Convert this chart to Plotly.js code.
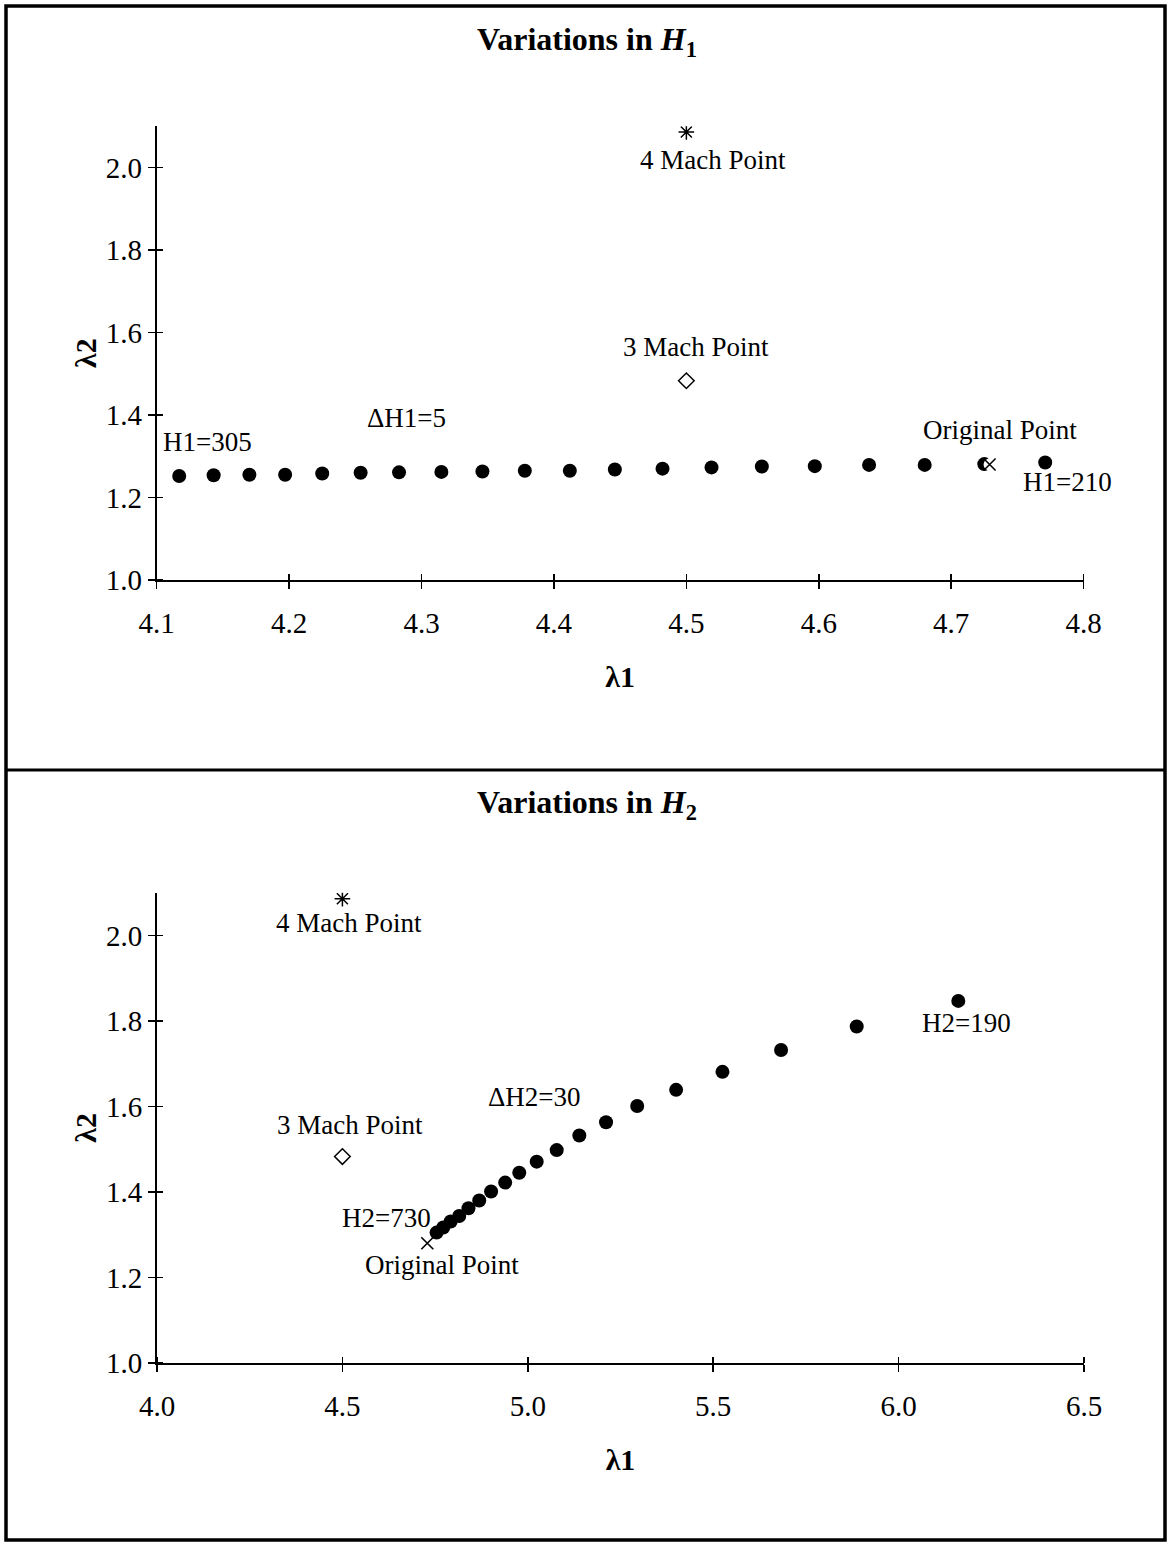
<!DOCTYPE html>
<html><head><meta charset="utf-8">
<script src="https://cdn.plot.ly/plotly-3.0.1.min.js"></script>
<style>html,body{margin:0;padding:0;background:#fff;}</style>
</head><body><div id="chart" style="width:1169px;height:1542px;"></div>
<script>
// ---- Panel 1: variations in H1 (H1 = 305 ... 210, step 5)
const h1Values   = [305,300,295,290,285,280,275,270,265,260,255,250,245,240,235,230,225,220,215,210];
const h1Lambda1  = [4.117,4.143,4.170,4.197,4.225,4.254,4.283,4.315,4.346,4.378,4.412,4.446,4.482,4.519,4.557,4.597,4.638,4.680,4.725,4.771];
const h1Lambda2  = [1.252,1.254,1.255,1.255,1.258,1.260,1.261,1.262,1.263,1.265,1.265,1.268,1.270,1.273,1.275,1.276,1.279,1.279,1.281,1.285];
// ---- Panel 2: variations in H2 (H2 = 730 ... 190, step 30)
const h2Values   = [730,700,670,640,610,580,550,520,490,460,430,400,370,340,310,280,250,220,190];
const h2Lambda1  = [4.754,4.772,4.792,4.815,4.840,4.869,4.901,4.939,4.977,5.024,5.078,5.139,5.211,5.295,5.400,5.525,5.683,5.887,6.161];
const h2Lambda2  = [1.305,1.317,1.331,1.344,1.362,1.380,1.401,1.422,1.445,1.471,1.498,1.532,1.563,1.601,1.639,1.681,1.732,1.787,1.847];
// ---- Reference points
const originalLambda1 = [4.729];
const originalLambda2 = [1.280];
const mach3Lambda1 = [4.5];
const mach3Lambda2 = [1.483];
const mach4Lambda1 = [4.5];
const mach4Lambda2 = [2.086];
// ---- Axis ticks
const topXTicks = [4.1,4.2,4.3,4.4,4.5,4.6,4.7,4.8];
const botXTicks = [4.0,4.5,5.0,5.5,6.0,6.5];
const yTicks = [1.0,1.2,1.4,1.6,1.8,2.0];

const W = 1169, H = 1542;
const FONT = 'Liberation Serif, Times New Roman, serif';
const px = v => v / W, py = v => 1 - v / H;

function refTraces(xa, ya, mask) {
  const t = [];
  if (mask) t.push({x: originalLambda1, y: originalLambda2, xaxis: xa, yaxis: ya, mode: 'markers', hoverinfo: 'skip',
      marker: {symbol: 'circle', size: 12, color: '#ffffff', line: {width: 0}}});
  t.push({x: originalLambda1, y: originalLambda2, xaxis: xa, yaxis: ya, mode: 'markers', name: 'Original Point',
      marker: {symbol: 'x-thin-open', size: 12, color: '#000', line: {width: 1.6, color: '#000'}}});
  t.push({x: mach3Lambda1, y: mach3Lambda2, xaxis: xa, yaxis: ya, mode: 'markers', name: '3 Mach Point',
      marker: {symbol: 'diamond-open', size: 12, color: '#000', line: {width: 1.5, color: '#000'}}});
  t.push({x: mach4Lambda1, y: mach4Lambda2, xaxis: xa, yaxis: ya, mode: 'markers', name: '4 Mach Point',
      marker: {symbol: 'asterisk-open', size: 13, color: '#000', line: {width: 1.5, color: '#000'}}});
  return t;
}

const traces = [
  {x: h1Lambda1, y: h1Lambda2, text: h1Values.map(v => 'H1=' + v), xaxis: 'x', yaxis: 'y', mode: 'markers', name: 'H1',
   marker: {symbol: 'circle', size: 14, color: '#000'}},
  ...refTraces('x', 'y', true),
  {x: h2Lambda1, y: h2Lambda2, text: h2Values.map(v => 'H2=' + v), xaxis: 'x2', yaxis: 'y2', mode: 'markers', name: 'H2',
   marker: {symbol: 'circle', size: 14, color: '#000'}}
].concat(refTraces('x2', 'y2', false));

const tickFont = {family: FONT, size: 29, color: '#000'};
// the inner half of the crossing ticks is drawn as minor ticks at (almost) the same values
const innerHalf = ticks => ({tickmode: 'array', tickvals: ticks.map(v => v + 1e-9), ticks: 'inside',
  ticklen: 6, tickwidth: 1.5, tickcolor: '#000', showgrid: false});
function mainX(domain, range, ticks, anchor) {
  return {domain, range, anchor, tickvals: ticks, ticktext: ticks.map(v => v.toFixed(1)),
    ticks: 'outside', ticklen: 7, tickwidth: 1.5, tickcolor: '#000', minor: innerHalf(ticks),
    showline: true, linecolor: '#000', linewidth: 2, showgrid: false, zeroline: false,
    tickfont: tickFont, ticklabelstandoff: 9,
    title: {text: '<b>λ1</b>', font: {family: FONT, size: 30, color: '#000'}, standoff: 28}};
}
function mainY(domain, anchor) {
  return {domain, range: [1.0, 2.1], anchor, tickvals: yTicks, ticktext: yTicks.map(v => v.toFixed(1)),
    ticks: 'outside', ticklen: 7, tickwidth: 1.5, tickcolor: '#000', minor: innerHalf(yTicks),
    showline: true, linecolor: '#000', linewidth: 2, showgrid: false, zeroline: false,
    tickfont: tickFont, ticklabelstandoff: 0,
    title: {text: '<b>λ2</b>', font: {family: FONT, size: 30, color: '#000'}, standoff: 0}};
}

const topXD = [px(156.7), px(1083.6)], topYD = [py(580), py(126.25)];
const botXD = [px(157), px(1084)], botYD = [py(1363), py(892.75)];

const annFont = {family: FONT, size: 27, color: '#000'};
function lab(text, x, y, xa, ya) {
  return {text, x, y, xref: xa, yref: ya, showarrow: false, font: annFont, xanchor: 'center', yanchor: 'middle'};
}

const layout = {
  width: W, height: H, margin: {l: 0, r: 0, t: 0, b: 0},
  paper_bgcolor: '#fff', plot_bgcolor: 'rgba(0,0,0,0)', showlegend: false,
  xaxis: mainX(topXD, [4.1, 4.8], topXTicks, 'y'),
  yaxis: mainY(topYD, 'x'),
  xaxis2: mainX(botXD, [4.0, 6.5], botXTicks, 'y2'),
  yaxis2: mainY(botYD, 'x2'),
  annotations: [
    {text: '<b>Variations in <i>H</i><sub>1</sub></b>', x: px(587), y: py(41), xref: 'paper', yref: 'paper',
     showarrow: false, font: {family: FONT, size: 32, color: '#000'}, xanchor: 'center', yanchor: 'middle'},
    {text: '<b>Variations in <i>H</i><sub>2</sub></b>', x: px(587), y: py(804), xref: 'paper', yref: 'paper',
     showarrow: false, font: {family: FONT, size: 32, color: '#000'}, xanchor: 'center', yanchor: 'middle'},
    lab('4 Mach Point', 4.520, 2.018, 'x', 'y'),
    lab('3 Mach Point', 4.507, 1.565, 'x', 'y'),
    lab('ΔH1=5', 4.289, 1.393, 'x', 'y'),
    lab('H1=305', 4.138, 1.335, 'x', 'y'),
    lab('Original Point', 4.737, 1.364, 'x', 'y'),
    lab('H1=210', 4.788, 1.238, 'x', 'y'),
    lab('4 Mach Point', 4.518, 2.029, 'x2', 'y2'),
    lab('3 Mach Point', 4.520, 1.557, 'x2', 'y2'),
    lab('ΔH2=30', 5.019, 1.622, 'x2', 'y2'),
    lab('H2=190', 6.182, 1.795, 'x2', 'y2'),
    lab('H2=730', 4.620, 1.339, 'x2', 'y2'),
    lab('Original Point', 4.769, 1.229, 'x2', 'y2')
  ],
  shapes: [
    {type: 'rect', xref: 'paper', yref: 'paper', x0: px(6), x1: px(1165), y0: py(1540), y1: py(6),
     line: {color: '#000', width: 3.5}},
    {type: 'line', xref: 'paper', yref: 'paper', x0: px(6), x1: px(1165), y0: py(770), y1: py(770),
     line: {color: '#000', width: 3}}
  ]
};

Plotly.newPlot('chart', traces, layout, {displayModeBar: false, staticPlot: true});
</script></body></html>
